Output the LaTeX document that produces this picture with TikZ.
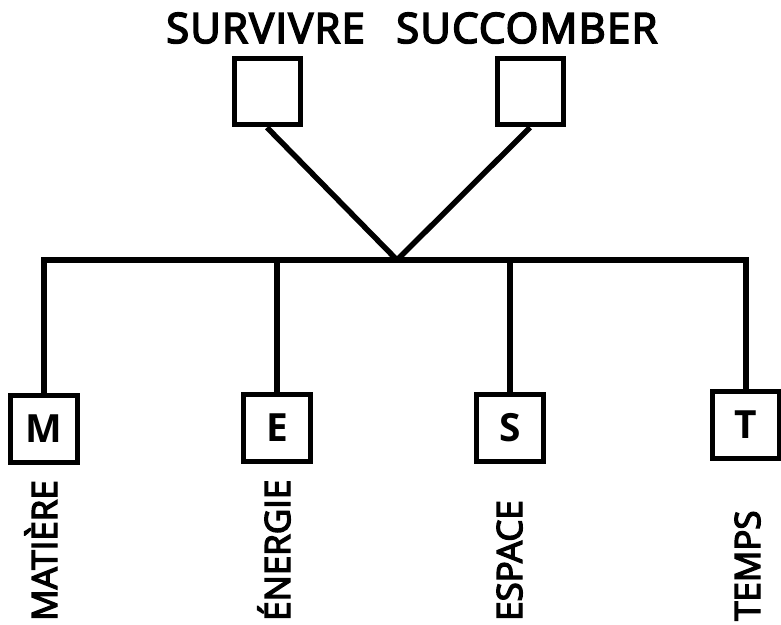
\documentclass[tikz,border=0pt]{standalone}
\usepackage{fontspec}
\setmainfont{Open Sans}
\newfontfamily\semib{Open Sans}[FakeBold=4]
\newfontfamily\semibw{Open Sans}[FakeBold=4,LetterSpace=3]
\begin{document}
\begin{tikzpicture}[x=1bp,y=-1bp,
  box/.style={draw,line width=5bp,minimum size=66bp,inner sep=0pt},
  smallbox/.style={draw,line width=5bp,minimum size=67bp,inner sep=0pt,font=\bfseries\fontsize{39}{40}\selectfont},
  conn/.style={line width=5.5bp,line join=miter},
  ttl/.style={inner sep=0pt,font=\semibw\fontsize{42}{46}\selectfont},
  lbl/.style={inner sep=0pt,rotate=90,anchor=base west,font=\semib\fontsize{35}{38}\selectfont}]
\useasboundingbox (0,0) rectangle (781,625);
% titles
\node[ttl,anchor=base west] (t1) at (166,43) {SURVIVRE};
\node[ttl,anchor=base west] (t2) at (396,43) {SUCCOMBER};
% top boxes
\node[box] (sv) at (267,92) {};
\node[box] (sc) at (530,92) {};
% junction
\coordinate (J) at (397,260);
% bottom boxes
\node[smallbox] (M) at (44,429) {M};
\node[smallbox] (E) at (277,428) {E};
\node[smallbox] (S) at (510,428) {S};
\node[smallbox] (T) at (746,425) {T};
% connectors
\draw[conn] (sv.south) -- (J);
\draw[conn] (sc.south) -- (J);
\draw[conn] (M.north) -- (M.north |- J) -- (T.north |- J) -- (T.north);
\draw[conn] (E.north) -- (E.north |- J);
\draw[conn] (S.north) -- (S.north |- J);
% labels
\node[lbl] (lm) at (57,621) {MATIÈRE};
\node[lbl] (le) at (290,621) {ÉNERGIE};
\node[lbl] (ls) at (522,621) {ESPACE};
\node[lbl] (lt) at (760,621) {TEMPS};
\end{tikzpicture}
\end{document}
